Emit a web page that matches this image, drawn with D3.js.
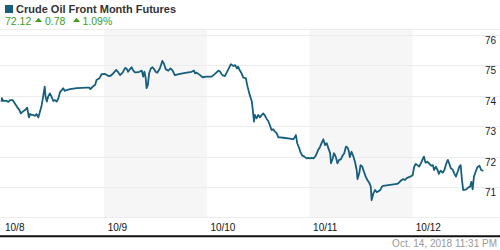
<!DOCTYPE html>
<html><head><meta charset="utf-8">
<script src="https://cdn.jsdelivr.net/npm/d3@7"></script>
<style>
html,body{margin:0;padding:0;background:#fff;}
svg{display:block;font-family:"Liberation Sans",Arial,sans-serif;}
</style></head>
<body><svg id="c" width="500" height="250"></svg>
<script>
const title = "Crude Oil Front Month Futures";
const lastPrice = "72.12";
const change = "0.78";
const changePct = "1.09%";
const timestamp = "Oct. 14, 2018 11:31 PM";
const dayLabels = ["10/8","10/9","10/10","10/11","10/12"];
const yTicks = [76,75,74,73,72,71];
const yGrid = [76,75,74,73,72,71,70];
// hours since Oct 8 00:00 (trading-day axis)
const hours = [0.0,0.1,0.4,1.2,1.6,2.0,2.6,3.2,3.7,4.2,4.5,5.0,5.5,6.0,6.4,6.7,7.1,7.4,7.8,8.2,8.6,9.0,9.4,9.8,10.1,10.3,10.6,10.9,11.3,11.7,12.1,12.5,12.9,13.3,13.7,14.1,14.4,14.8,15.2,16.0,17.6,19.9,20.5,20.8,21.3,21.9,22.2,22.9,23.4,24.2,25.0,25.5,26.1,26.8,27.3,27.7,28.3,28.9,29.3,29.6,30.0,30.4,30.8,31.2,31.6,32.2,32.8,33.1,33.4,33.7,33.9,34.2,34.5,34.9,35.3,35.7,36.0,36.4,37.0,37.6,38.0,38.4,39.0,39.5,40.0,40.5,41.7,43.3,44.4,45.0,45.2,45.6,46.4,47.0,48.0,49.1,49.9,50.7,51.1,51.6,52.2,53.0,53.6,54.2,54.6,55.0,55.3,55.7,56.1,56.5,57.1,57.4,57.9,58.5,58.7,59.0,59.2,59.6,60.0,60.4,60.8,61.2,61.6,62.0,62.3,62.7,63.1,63.5,63.9,64.3,64.7,65.1,65.8,67.4,68.2,68.6,68.8,69.1,69.6,69.9,70.3,70.8,71.3,71.7,72.1,72.5,72.9,73.3,73.7,74.0,74.4,74.8,75.2,75.6,76.0,76.4,76.8,77.0,77.4,77.7,78.1,78.5,78.9,79.3,79.6,80.1,80.5,80.9,81.2,81.4,81.8,82.2,82.6,83.0,83.2,83.6,83.9,84.3,84.7,85.1,85.5,86.0,86.3,86.5,86.9,87.3,87.7,88.1,88.5,88.9,89.2,90.8,92.4,92.7,93.5,93.9,94.3,94.7,95.5,96.1,96.4,96.8,97.2,97.6,98.0,98.4,98.7,99.1,99.5,99.9,100.4,100.8,101.1,101.5,101.9,102.2,102.6,103.1,103.5,103.9,104.3,104.6,105.0,105.4,105.8,106.2,106.6,107.0,107.3,107.6,107.9,108.6,109.1,109.5,109.8,110.1,110.4,110.8,111.2,111.7,112.1,112.6];
const prices = [73.81,73.92,73.83,73.83,73.80,73.86,73.86,73.73,73.62,73.53,73.42,73.48,73.53,73.61,73.29,73.40,73.37,73.37,73.34,73.40,73.29,73.48,73.70,74.03,74.30,73.97,73.81,73.97,74.08,73.97,73.83,73.86,73.81,73.92,74.13,74.19,74.25,74.16,74.19,74.22,74.25,74.27,74.27,74.22,74.30,74.36,74.52,74.58,74.71,74.72,74.65,74.66,74.74,74.85,74.77,74.68,74.76,74.92,74.88,74.79,74.87,74.94,74.83,74.77,74.77,74.79,74.83,74.63,74.79,74.58,74.25,74.36,74.74,74.90,74.94,74.87,74.79,74.76,74.90,75.15,75.04,74.87,74.83,74.90,74.83,74.68,74.72,74.76,74.79,74.83,74.74,74.76,74.68,74.61,74.63,74.63,74.72,74.83,74.79,74.68,74.65,74.87,75.04,74.98,75.01,74.90,74.96,74.83,74.74,74.60,74.58,74.36,74.08,73.81,73.57,73.15,73.37,73.26,73.37,73.29,73.37,73.42,73.34,73.23,73.18,73.04,72.88,72.90,72.82,72.77,72.63,72.63,72.62,72.59,72.57,72.65,72.71,72.44,72.27,72.13,72.03,72.00,71.94,71.96,71.94,71.96,71.94,72.00,72.11,72.22,72.31,72.44,72.57,72.38,72.44,72.27,72.11,71.78,71.94,72.11,72.00,71.78,71.89,71.91,72.00,72.11,72.33,72.29,72.16,71.98,72.16,72.02,71.83,71.56,71.26,71.45,71.72,71.67,71.50,71.34,71.23,71.12,71.01,70.57,70.79,70.90,70.83,70.86,70.90,71.01,71.04,71.07,71.10,71.12,71.23,71.26,71.23,71.29,71.34,71.39,71.65,71.76,71.72,71.67,71.78,71.91,72.00,71.80,71.83,71.78,71.70,71.72,71.56,71.67,71.56,71.43,71.54,71.47,71.56,71.76,71.89,71.78,71.62,71.58,71.45,71.34,71.50,71.67,71.72,71.23,70.90,70.92,70.99,71.01,71.17,70.92,71.34,71.50,71.65,71.70,71.56,71.53];

const t0 = new Date(2018, 9, 8);
const toDate = h => new Date(t0.getTime() + h * 3600e3);
const data = hours.map((h, i) => ({t: toDate(h), v: prices[i]}));
const days = dayLabels.map((d, i) => toDate(i * 24));

const svg = d3.select("#c");
const W = 500;
const x = d3.scaleTime().domain([t0, toDate(120)]).range([1.5, 515]);
const y = d3.scaleLinear().domain([70, 76]).range([217.4, 35]);

// header
svg.append("rect").attr("x", 5).attr("y", 5).attr("width", 8).attr("height", 8).attr("fill", "#165f7d");
svg.append("text").attr("x", 16).attr("y", 13.2).attr("font-size", 11).attr("font-weight", "bold").attr("fill", "#333").text(title);
const g = svg.append("g").attr("fill", "#3f9b1c").attr("font-size", 10.5);
g.append("text").attr("x", 5).attr("y", 24.6).text(lastPrice);
const tri = (cx) => g.append("path").attr("d", `M${cx-3.5},22 L${cx},17.8 L${cx+3.5},22 Z`);
tri(38.5);
g.append("text").attr("x", 45).attr("y", 24.6).text(change);
tri(76.5);
g.append("text").attr("x", 82.5).attr("y", 24.6).text(changePct);

// separator
svg.append("line").attr("x1", 0).attr("x2", W).attr("y1", 29.5).attr("y2", 29.5).attr("stroke", "#ececec");

// shaded alternate days
svg.append("g").selectAll("rect").data(days.filter((d, i) => i % 2 === 1)).join("rect")
  .attr("x", d => x(d)).attr("y", 30)
  .attr("width", d => x(d3.timeHour.offset(d, 24)) - x(d))
  .attr("height", 188).attr("fill", "#f6f6f6");

// gridlines
svg.append("g").selectAll("line").data(yGrid).join("line")
  .attr("x1", 0).attr("x2", W)
  .attr("y1", d => Math.round(y(d)) + 0.5).attr("y2", d => Math.round(y(d)) + 0.5)
  .attr("stroke", "#ececec");

// y labels
svg.append("g").attr("font-size", 10).attr("fill", "#222").selectAll("text").data(yTicks).join("text")
  .attr("x", 485).attr("y", d => y(d) + 9).text(d => d);

// line
svg.append("path").datum(data)
  .attr("d", d3.line().x(d => x(d.t)).y(d => y(d.v)))
  .attr("fill", "none").attr("stroke", "#165f7d").attr("stroke-width", 1.8).attr("stroke-linejoin", "round");

// x axis
svg.append("line").attr("x1", 0).attr("x2", W).attr("y1", 236.3).attr("y2", 236.3).attr("stroke", "#111").attr("stroke-width", 2);
svg.append("g").attr("font-size", 10).attr("fill", "#111").selectAll("text").data(days).join("text")
  .attr("x", d => x(d) + 3.5).attr("y", 231).text((d, i) => dayLabels[i]);

svg.append("text").attr("x", 497).attr("y", 247).attr("text-anchor", "end").attr("font-size", 10).attr("fill", "#999").text(timestamp);
</script></body></html>
